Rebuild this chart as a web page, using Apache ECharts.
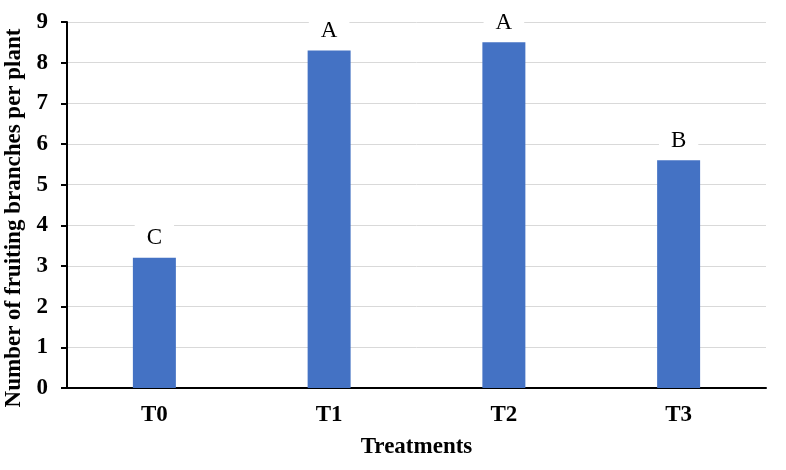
<!DOCTYPE html>
<html>
<head>
<meta charset="utf-8">
<script src="https://cdn.jsdelivr.net/npm/echarts@6/dist/echarts.min.js"></script>
<style>html,body{margin:0;padding:0;background:#fff;}#c{width:786px;height:470px;}</style>
</head>
<body>
<div id="c"></div>
<script>
var categories = ['T0', 'T1', 'T2', 'T3'];
var values = [3.2, 8.3, 8.5, 5.6];
var letters = ['C', 'A', 'A', 'B'];
var yTicks = [0, 1, 2, 3, 4, 5, 6, 7, 8, 9];

var chart = echarts.init(document.getElementById('c'));
var font = '"Liberation Serif", "Times New Roman", serif';
chart.setOption({
  animation: false,
  backgroundColor: '#fff',
  grid: { left: 67, right: 20, top: 22, bottom: 82, containLabel: false, outerBoundsMode: 'none' },
  xAxis: {
    type: 'category',
    data: categories,
    name: 'Treatments',
    nameLocation: 'middle',
    nameGap: 48,
    nameTextStyle: { fontFamily: font, fontWeight: 'bold', fontSize: 23, color: '#000' },
    axisLine: { lineStyle: { color: '#000', width: 2 } },
    axisTick: { show: false },
    axisLabel: { fontFamily: font, fontWeight: 'bold', fontSize: 23, color: '#000', margin: 16 }
  },
  yAxis: {
    type: 'value',
    min: yTicks[0],
    max: yTicks[yTicks.length - 1],
    interval: 1,
    name: 'Number of fruiting branches per plant',
    nameLocation: 'middle',
    nameGap: 34,
    nameTextStyle: { fontFamily: font, fontWeight: 'bold', fontSize: 23, color: '#000', padding: [0, 26, 0, 0] },
    axisLine: { show: true, lineStyle: { color: '#000', width: 2 } },
    axisTick: { show: true, length: 6, lineStyle: { color: '#000', width: 2 } },
    axisLabel: { fontFamily: font, fontWeight: 'bold', fontSize: 23, color: '#000', margin: 19 },
    splitLine: { lineStyle: { color: '#d9d9d9', width: 1 } }
  },
  series: [{
    type: 'bar',
    data: values,
    barWidth: '24.6%',
    itemStyle: { color: '#4472C4' },
    label: {
      show: true,
      position: 'top',
      distance: 6,
      formatter: function (p) { return letters[p.dataIndex]; },
      fontFamily: font,
      fontSize: 23,
      color: '#000',
      backgroundColor: '#fff',
      padding: [2, 12]
    }
  }]
});
</script>
</body>
</html>
